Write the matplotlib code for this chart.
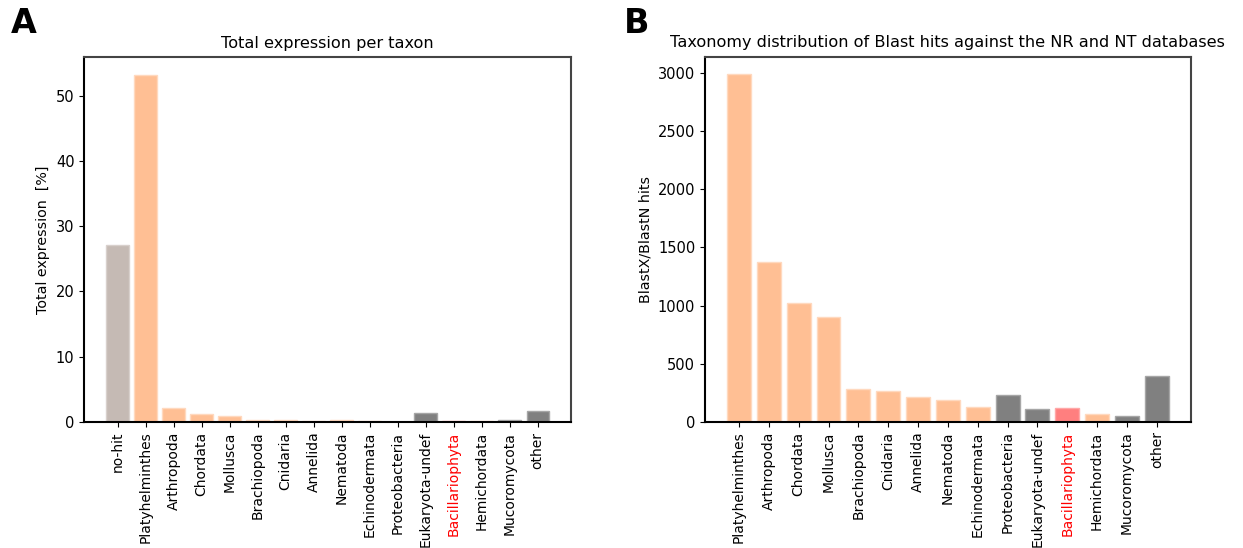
import matplotlib
matplotlib.use("Agg")
import matplotlib.pyplot as plt
import numpy as np

# Panel A data
taxa_a = ["no-hit", "Platyhelminthes", "Arthropoda", "Chordata", "Mollusca",
          "Brachiopoda", "Cnidaria", "Annelida", "Nematoda", "Echinodermata",
          "Proteobacteria", "Eukaryota-undef", "Bacillariophyta", "Hemichordata",
          "Mucoromycota", "other"]
expr_a = [27.1, 53.2, 2.1, 1.3, 0.95, 0.35, 0.3, 0.15, 0.35, 0.1,
          0.0, 1.35, 0.15, 0.08, 0.25, 1.7]
groups_a = ["nohit", "meta", "meta", "meta", "meta", "meta", "meta", "meta", "meta", "meta",
            "undef", "undef", "diatom", "meta", "undef", "undef"]

# Panel B data
taxa_b = ["Platyhelminthes", "Arthropoda", "Chordata", "Mollusca",
          "Brachiopoda", "Cnidaria", "Annelida", "Nematoda", "Echinodermata",
          "Proteobacteria", "Eukaryota-undef", "Bacillariophyta", "Hemichordata",
          "Mucoromycota", "other"]
hits_b = [2990, 1375, 1025, 905, 284, 267, 213, 184, 129,
          232, 106, 115, 63, 46, 391]
groups_b = ["meta", "meta", "meta", "meta", "meta", "meta", "meta", "meta", "meta",
            "undef", "undef", "diatom", "meta", "undef", "undef"]

face = {"meta": "#ffbf94", "undef": "#808080", "diatom": "#ff7f7f", "nohit": "#c5bab4"}
edge = {"meta": "#ffd9bf", "undef": "#a6a6a6", "diatom": "#ffa8a8", "nohit": "#d8d0cc"}

plt.rcParams["font.family"] = "DejaVu Sans"

fig = plt.figure(figsize=(12.43, 5.48), dpi=100)
axA = fig.add_axes([0.0678, 0.2299, 0.4594 - 0.0678, 0.8954 - 0.2299])
axB = fig.add_axes([0.5672, 0.2305, 0.958 - 0.5672, 0.896 - 0.2305])


def draw(ax, taxa, vals, groups, title, ylabel):
    x = np.arange(len(taxa))
    ax.bar(x, vals, width=0.8, color=[face[g] for g in groups],
           edgecolor=[edge[g] for g in groups], linewidth=1.0)
    ax.set_xticks(x)
    ax.set_xticklabels(taxa, rotation=90, fontsize=10)
    for lbl in ax.get_xticklabels():
        if lbl.get_text() == "Bacillariophyta":
            lbl.set_color("red")
    ax.set_title(title, fontsize=11.6, pad=7)
    ax.set_ylabel(ylabel, fontsize=10.3)
    ax.tick_params(axis="y", labelsize=10.5)
    for side in ["left", "bottom"]:
        ax.spines[side].set_linewidth(1.5)
        ax.spines[side].set_color("black")
    for side in ["top", "right"]:
        ax.spines[side].set_linewidth(1.5)
        ax.spines[side].set_color("#444444")


draw(axA, taxa_a, expr_a, groups_a, "Total expression per taxon", "Total expression  [%]")
axA.set_yticks([0, 10, 20, 30, 40, 50])
draw(axB, taxa_b, hits_b, groups_b,
     "Taxonomy distribution of Blast hits against the NR and NT databases",
     "BlastX/BlastN hits")
axB.set_yticks([0, 500, 1000, 1500, 2000, 2500, 3000])

fig.text(0.009, 0.94, "A", fontsize=24, fontweight="bold",
         family=["Liberation Sans Narrow", "DejaVu Sans"])
fig.text(0.502, 0.94, "B", fontsize=24, fontweight="bold",
         family=["Liberation Sans Narrow", "DejaVu Sans"])

fig.savefig("out.png", dpi=100)
